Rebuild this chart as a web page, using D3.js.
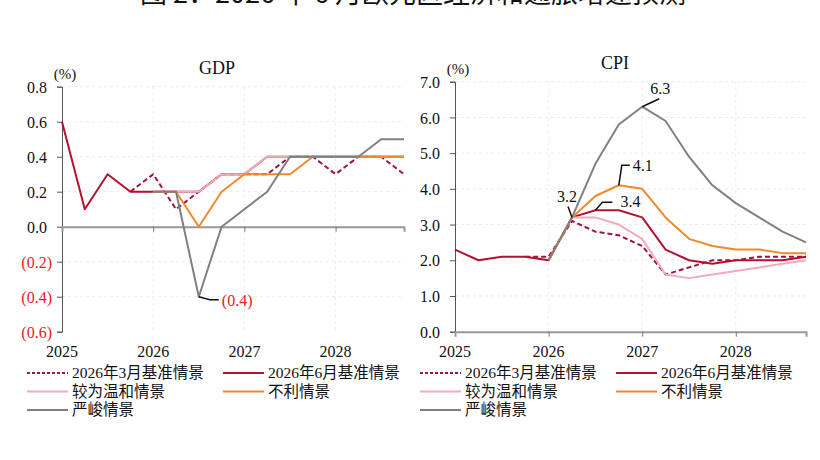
<!DOCTYPE html>
<html>
<head>
<meta charset="utf-8">
<script src="https://cdn.jsdelivr.net/npm/d3@7"></script>
<style>
  body { margin: 0; background: #fff; }
  svg { display: block; }
</style>
</head>
<body>
<svg width="820" height="460"></svg>
<script>
// quarters 2025Q1 .. 2028Q4, index 0..15
var years = ["2025", "2026", "2027", "2028"];
var yearIdx = [0, 4, 8, 12];

// GDP (季环比, %)
var gdpMar     = [null, null, null, 0.2, 0.3, 0.1, 0.2, 0.3, 0.3, 0.3, 0.4, 0.4, 0.3, 0.4, 0.4, 0.3];
var gdpJun     = [0.6, 0.1, 0.3, 0.2, 0.2, 0.2, 0.2, 0.3, 0.3, 0.4, 0.4, 0.4, 0.4, 0.4, 0.4, 0.4];
var gdpMild    = [null, null, null, null, 0.2, 0.2, 0.2, 0.3, 0.3, 0.4, 0.4, 0.4, 0.4, 0.4, 0.4, 0.4];
var gdpAdverse = [null, null, null, null, 0.2, 0.2, 0.0, 0.2, 0.3, 0.3, 0.3, 0.4, 0.4, 0.4, 0.4, 0.4];
var gdpSevere  = [null, null, null, null, 0.2, 0.2, -0.4, 0.0, 0.1, 0.2, 0.4, 0.4, 0.4, 0.4, 0.5, 0.5];
var gdpTicks   = [0.8, 0.6, 0.4, 0.2, 0.0, -0.2, -0.4, -0.6];

// CPI (同比, %)
var cpiMar     = [null, null, null, 2.1, 2.1, 3.1, 2.8, 2.7, 2.4, 1.6, 1.8, 2.0, 2.0, 2.1, 2.1, 2.1];
var cpiJun     = [2.3, 2.0, 2.1, 2.1, 2.0, 3.2, 3.4, 3.4, 3.2, 2.3, 2.0, 1.9, 2.0, 2.0, 2.0, 2.1];
var cpiMild    = [null, null, null, null, 2.0, 3.2, 3.2, 3.0, 2.6, 1.6, 1.5, 1.6, 1.7, 1.8, 1.9, 2.0];
var cpiAdverse = [null, null, null, null, 2.0, 3.2, 3.8, 4.1, 4.0, 3.2, 2.6, 2.4, 2.3, 2.3, 2.2, 2.2];
var cpiSevere  = [null, null, null, null, 2.0, 3.2, 4.7, 5.8, 6.3, 5.9, 4.9, 4.1, 3.6, 3.2, 2.8, 2.5];
var cpiTicks   = [0, 1, 2, 3, 4, 5, 6, 7];

var names  = ["2026年3月基准情景", "2026年6月基准情景", "较为温和情景", "不利情景", "严峻情景"];
var colors = ["#a3123f", "#b3122e", "#f2abb8", "#f0892a", "#808080"];

var serif = "Liberation Serif, Times New Roman, serif";
var cjk = "Liberation Serif, Noto Sans CJK SC, serif";

var svg = d3.select("svg");

// figure title, cut off by the top edge as in the source picture
svg.append("text")
  .attr("x", 413).attr("y", 3)
  .attr("text-anchor", "middle")
  .attr("font-family", "Noto Sans CJK SC")
  .attr("font-size", 27)
  .attr("fill", "#111")
  .text("图 2：2026 年 6 月欧元区经济和通胀增速预测");

function fmt(v) {
  if (v < 0) return "(" + d3.format(".1f")(-v) + ")";
  return d3.format(".1f")(v);
}

function panel(opt) {
  var x = d3.scaleLinear().domain([0, 15]).range([opt.x0, opt.x1]);
  var y = d3.scaleLinear().domain(opt.domain).range([331.7, opt.top]);
  var g = svg.append("g");

  // faint grid
  g.selectAll(".hg").data(opt.ticks.filter(function(d){ return d != opt.domain[0]; }))
    .enter().append("line")
    .attr("x1", opt.x0).attr("x2", opt.x1)
    .attr("y1", function(d){ return y(d); }).attr("y2", function(d){ return y(d); })
    .attr("stroke", "#ececec").attr("stroke-dasharray", "3,3");
  g.selectAll(".vg").data(yearIdx.slice(1))
    .enter().append("line")
    .attr("x1", function(d){ return x(d); }).attr("x2", function(d){ return x(d); })
    .attr("y1", opt.top).attr("y2", 331.7)
    .attr("stroke", "#ececec").attr("stroke-dasharray", "3,3");

  // y axis
  var ya = d3.axisLeft(y).tickValues(opt.ticks).tickSize(5).tickFormat(fmt);
  var yg = g.append("g").attr("transform", "translate(" + opt.x0 + ",0)").call(ya);
  yg.attr("font-family", serif).attr("font-size", 16);
  yg.select(".domain").attr("stroke", "#555");
  yg.selectAll(".tick line").attr("stroke", "#555");
  yg.selectAll("text")
    .attr("x", function(d){ return d < 0 ? -10 : -15; })
    .attr("dy", "0.35em")
    .attr("fill", function(d){ return d < 0 ? "#e8201e" : "#111"; });

  // x axis line (at zero)
  var base = y(opt.domain[0] < 0 ? 0 : opt.domain[0]);
  var xa = d3.axisBottom(x).tickValues(yearIdx.slice(1)).tickSize(5).tickFormat("");
  var xg = g.append("g").attr("transform", "translate(0," + base + ")").call(xa);
  xg.select(".domain").attr("stroke", "#999").attr("stroke-width", 2);
  xg.selectAll(".tick line").attr("stroke", "#777");

  // year labels under plot
  g.selectAll(".yr").data(years).enter().append("text")
    .attr("x", function(d, i){ return x(yearIdx[i]); })
    .attr("y", 357)
    .attr("text-anchor", "middle")
    .attr("font-family", serif).attr("font-size", 16)
    .attr("fill", "#111")
    .text(function(d){ return d; });

  // lines
  var line = d3.line()
    .defined(function(d){ return d != null; })
    .x(function(d, i){ return x(i); })
    .y(function(d){ return y(d); });
  opt.series.forEach(function(s, k) {
    g.append("path")
      .datum(s)
      .attr("d", line)
      .attr("fill", "none")
      .attr("stroke", colors[k])
      .attr("stroke-width", 2)
      .attr("stroke-dasharray", k == 0 ? "5,3" : null)
      .attr("stroke-linejoin", "round");
  });

  // title and unit
  g.append("text").attr("x", opt.titleX).attr("y", opt.top - 13)
    .attr("text-anchor", "middle").attr("font-family", serif).attr("font-size", 18)
    .attr("fill", "#111").text(opt.title);
  g.append("text").attr("x", opt.x0 + 3).attr("y", opt.top - 8)
    .attr("text-anchor", "middle").attr("font-family", serif).attr("font-size", 15)
    .attr("fill", "#111").text("(%)");

  // legend
  var lx = [opt.x0 - 35, opt.x0 + 161];
  var ly = [373, 391.5, 410];
  names.forEach(function(n, k) {
    var cx = lx[k % 2], cy = ly[Math.floor(k / 2)];
    g.append("line")
      .attr("x1", cx).attr("x2", cx + 41).attr("y1", cy).attr("y2", cy)
      .attr("stroke", colors[k]).attr("stroke-width", 2)
      .attr("stroke-dasharray", k == 0 ? "3,2" : null);
    g.append("text").attr("x", cx + 45).attr("y", cy + 5)
      .attr("font-family", cjk).attr("font-size", 15.5)
      .attr("fill", "#111").text(n);
  });

  return { g: g, x: x, y: y };
}

var gdp = panel({
  x0: 62, x1: 404, top: 86.7, domain: [-0.6, 0.8], ticks: gdpTicks,
  title: "GDP", titleX: 217,
  series: [gdpMar, gdpJun, gdpMild, gdpAdverse, gdpSevere]
});

var cpi = panel({
  x0: 455, x1: 806, top: 81.7, domain: [0, 7], ticks: cpiTicks,
  title: "CPI", titleX: 615,
  series: [cpiMar, cpiJun, cpiMild, cpiAdverse, cpiSevere]
});

// callouts
function callout(p, i, v, pts, tx, ty, color) {
  var px = p.x(i), py = p.y(v);
  var path = d3.path();
  path.moveTo(px, py);
  pts.forEach(function(q){ path.lineTo(px + q[0], py + q[1]); });
  p.g.append("path").attr("d", path.toString())
    .attr("fill", "none").attr("stroke", "#111").attr("stroke-width", 1.5);
  p.g.append("text").attr("x", px + tx).attr("y", py + ty)
    .attr("font-family", serif).attr("font-size", 16)
    .attr("fill", color).text(fmt(v));
}

callout(gdp, 6, gdpSevere[6], [[11, 3], [20, 3]], 23, 9, "#e8201e");
callout(cpi, 8, cpiSevere[8], [[17, -8]], 8, -13, "#111");
callout(cpi, 7, cpiAdverse[7], [[3, -20], [11, -20]], 14, -14, "#111");
callout(cpi, 6, cpiJun[6], [[7, -8], [17, -8]], 25, -3, "#111");
callout(cpi, 5, cpiSevere[5], [[-4, -11]], -15, -15, "#111");
</script>
</body>
</html>
